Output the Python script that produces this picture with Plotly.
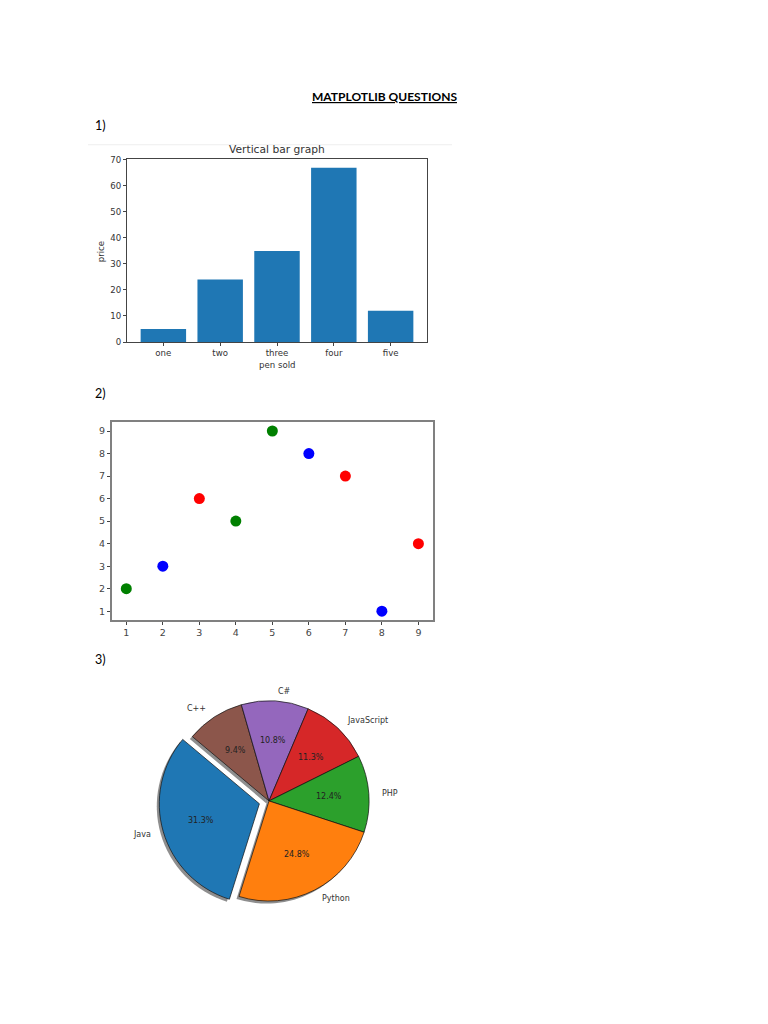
import math
import plotly.graph_objects as go

W, H = 768, 1024

# ---- Chart 1: vertical bar graph ----
pens = ["one", "two", "three", "four", "five"]
prices = [5, 24, 35, 67, 12]
price_ticks = [0, 10, 20, 30, 40, 50, 60, 70]

# ---- Chart 2: scatter ----
sx = [1, 2, 3, 4, 5, 6, 7, 8, 9]
sy = [2, 3, 6, 5, 9, 8, 7, 1, 4]
scolors = ["green", "blue", "red", "green", "green", "blue", "red", "blue", "red"]
scatter_ticks = [1, 2, 3, 4, 5, 6, 7, 8, 9]

# ---- Chart 3: pie ----
languages = ["Java", "Python", "PHP", "JavaScript", "C#", "C++"]
popularity = [22.2, 17.6, 8.8, 8.0, 7.7, 6.7]
pie_colors = ["#1f77b4", "#ff7f0e", "#2ca02c", "#d62728", "#9467bd", "#8c564b"]
explode = [0.1, 0, 0, 0, 0, 0]
start_angle = 140


def px(x):
    return x / W


def py(y):
    return 1 - y / H


TXT = "#333333"
MPL_FONT = "DejaVu Sans"
DOC_FONT = "Lato"

fig = go.Figure()

# Bar chart
fig.add_trace(go.Bar(x=pens, y=prices, marker=dict(color="#1f77b4", line=dict(width=0)),
                     xaxis="x", yaxis="y", showlegend=False))

# Scatter
fig.add_trace(go.Scatter(x=sx, y=sy, mode="markers",
                         marker=dict(color=scolors, size=11, line=dict(width=0)),
                         xaxis="x2", yaxis="y2", showlegend=False))

# Pie geometry (pixels)
PCX, PCY, R = 269, 804, 101
maxpull = max(explode)
half = R * (1 + maxpull)
rev = slice(None, None, -1)

# shadow pie
SH = 2.5
fig.add_trace(go.Pie(
    labels=languages[rev], values=popularity[rev], pull=explode[rev],
    sort=False, direction="clockwise", rotation=90 - start_angle,
    marker=dict(colors=["rgba(50,50,50,0.55)"] * len(languages), line=dict(width=0)),
    textinfo="none", hoverinfo="skip", showlegend=False,
    domain=dict(x=[px(PCX - SH - half), px(PCX - SH + half)],
                y=[py(PCY + SH + half), py(PCY + SH - half)]),
))
# main pie
fig.add_trace(go.Pie(
    labels=languages[rev], values=popularity[rev], pull=explode[rev],
    sort=False, direction="clockwise", rotation=90 - start_angle,
    marker=dict(colors=pie_colors[rev], line=dict(color="#111111", width=0.7)),
    textinfo="none", showlegend=False,
    domain=dict(x=[px(PCX - half), px(PCX + half)],
                y=[py(PCY + half), py(PCY - half)]),
))

annotations = []


def ann(x, y, text, size, font=MPL_FONT, color=TXT, xanchor="center", yanchor="middle", angle=0):
    annotations.append(dict(x=px(x), y=py(y), xref="paper", yref="paper", text=text,
                            showarrow=False, xanchor=xanchor, yanchor=yanchor, textangle=angle,
                            font=dict(family=font, size=size, color=color)))


# document texts
ann(384, 93, "<b><u>MATPLOTLIB QUESTIONS</u></b>", 12, font=DOC_FONT, color="#000000")
ann(93, 123, "1)", 12.5, font=DOC_FONT, color="#000000", xanchor="left")
ann(93, 393, "2)", 12.5, font=DOC_FONT, color="#000000", xanchor="left")
ann(93, 661, "3)", 12.5, font=DOC_FONT, color="#000000", xanchor="left")

# bar chart texts
ann(277, 146.5, "Vertical bar graph", 10.7)
ann(277, 364, "pen sold", 8.6)
ann(100.5, 250, "price", 8.6, angle=-90)

# pie labels
total = sum(popularity)
cum = 0.0
for lab, v, ex in zip(languages, popularity, explode):
    frac = v / total
    t1 = start_angle + 360 * cum
    t2 = t1 + 360 * frac
    mid = math.radians((t1 + t2) / 2)
    c, s = math.cos(mid), math.sin(mid)
    cx = PCX + ex * R * c
    cy = PCY - ex * R * s
    ann(cx + 1.1 * R * c, cy - 1.1 * R * s, lab, 8,
        xanchor="left" if c > 0 else "right")
    ann(cx + 0.6 * R * c, cy - 0.6 * R * s, f"{frac * 100:.1f}%", 8, color="#222222")
    cum += frac

axis_common = dict(showgrid=False, zeroline=False, showline=True, mirror=True,
                   ticks="outside", ticklen=3, tickwidth=1, tickcolor="#444444",
                   tickfont=dict(family=MPL_FONT, size=8.6, color=TXT))

fig.update_layout(
    width=W, height=H, margin=dict(l=0, r=0, t=0, b=0),
    paper_bgcolor="white", plot_bgcolor="white",
    bargap=0.2,
    xaxis=dict(domain=[px(127), px(427)], anchor="y", range=[-0.64, 4.64],
               linecolor="#444444", linewidth=1, **axis_common),
    yaxis=dict(domain=[py(341), py(156.4)], anchor="x", range=[0, 70.35],
               tickvals=price_ticks, linecolor="#444444", linewidth=1, **axis_common),
    xaxis2=dict(domain=[px(111.7), px(433)], anchor="y2", range=[0.6, 9.4],
                tickvals=scatter_ticks, linecolor="#808080", linewidth=1.5,
                **{k: v for k, v in axis_common.items() if k != "tickfont"},
                tickfont=dict(family=MPL_FONT, size=9.5, color="#444444")),
    yaxis2=dict(domain=[py(621.7), py(421.7)], anchor="x2", range=[0.6, 9.4],
                tickvals=scatter_ticks, linecolor="#808080", linewidth=1.5,
                **{k: v for k, v in axis_common.items() if k != "tickfont"},
                tickfont=dict(family=MPL_FONT, size=9.5, color="#444444")),
    annotations=annotations,
    shapes=[dict(type="line", xref="paper", yref="paper",
                 x0=px(88), x1=px(452), y0=py(142), y1=py(142),
                 line=dict(color="#eeeeee", width=1))],
)

fig.write_html("out.html", config={"displayModeBar": False},
               post_script="document.body.style.margin='0';document.body.style.padding='0';")
